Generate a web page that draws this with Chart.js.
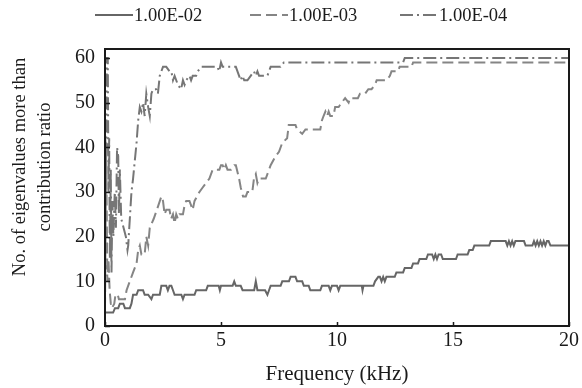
<!DOCTYPE html>
<html>
<head>
<meta charset="utf-8">
<title>Eigenvalue count vs frequency</title>
<script src="https://cdn.jsdelivr.net/npm/chart.js@4.4.1/dist/chart.umd.min.js"></script>
<style>
  html, body { margin: 0; padding: 0; background: #fff; }
  #wrap { width: 582px; height: 388px; }
</style>
</head>
<body>
<div id="wrap"><canvas id="eigChart" width="582" height="388"></canvas></div>
<script>
// Contribution-ratio thresholds, one curve each
const seriesLabels = ['1.00E-02', '1.00E-03', '1.00E-04'];

// Axis ticks
const xTickLabels = [0, 5, 10, 15, 20];
const yTickLabels = [0, 10, 20, 30, 40, 50, 60];

// 1.00E-02 : frequency (kHz) and number of eigenvalues
const freq1 = [0, 0.35, 0.43, 0.57, 0.64, 0.79, 0.86, 1.07, 1.14, 1.21, 1.36, 1.43, 1.64, 1.71, 1.86, 2.0, 2.07, 2.36, 2.43, 2.64,
  2.71, 2.78, 2.86, 2.93, 3.0, 3.29, 3.36, 3.43, 3.86, 3.93, 4.36, 4.43, 4.9, 4.95, 5.0, 5.5, 5.57, 5.64, 5.85, 5.93,
  6.43, 6.5, 6.57, 6.9, 7.0, 7.07, 7.14, 7.57, 7.64, 7.93, 8.0, 8.21, 8.28, 8.5, 8.57, 8.78, 8.85, 9.28, 9.35, 9.64,
  9.71, 9.78, 10.0, 10.07, 10.14, 11.07, 11.1, 11.14, 11.57, 11.64, 11.78, 11.85, 11.92, 11.99, 12.06, 12.13, 12.49, 12.56, 12.85, 12.92,
  13.21, 13.28, 13.49, 13.56, 13.85, 13.92, 14.1, 14.17, 14.24, 14.31, 14.38, 14.49, 14.56, 15.13, 15.2, 15.63, 15.7, 15.85, 15.92, 16.56,
  16.63, 17.27, 17.34, 17.41, 17.48, 17.55, 17.62, 17.69, 18.06, 18.13, 18.42, 18.49, 18.56, 18.63, 18.7, 18.77, 18.84, 18.91, 18.98, 19.05,
  19.12, 19.2, 20];
const count1 = [3, 3, 4, 4, 5, 5, 4, 4, 5, 7, 7, 8, 8, 7, 7, 6, 7, 7, 9, 9,
  8, 9, 9, 8, 7, 7, 6, 7, 7, 8, 8, 9, 9, 8, 9, 9, 10, 9, 9, 8,
  8, 10, 8, 8, 7, 8, 9, 9, 10, 10, 11, 11, 10, 10, 9, 9, 8, 8, 9, 9,
  8, 9, 9, 8, 9, 9, 8, 9, 9, 10, 11, 11, 10, 11, 10, 11, 11, 12, 12, 13,
  13, 14, 14, 15, 15, 16, 16, 15, 16, 15, 16, 16, 15, 15, 16, 16, 17, 17, 18, 18,
  19, 19, 18, 19, 18, 19, 18, 19, 19, 18, 18, 19, 18, 19, 18, 19, 18, 19, 18, 19,
  19, 18, 18];

// 1.00E-03
const freq2 = [0, 0.05, 0.1, 0.15, 0.2, 0.25, 0.3, 0.4, 0.45, 0.55, 0.6, 0.86, 0.93, 1.07, 1.21, 1.36, 1.43, 1.5, 1.57, 1.71,
  1.78, 1.86, 1.93, 2.1, 2.3, 2.43, 2.5, 2.57, 2.64, 2.78, 2.85, 2.93, 3.0, 3.07, 3.14, 3.21, 3.36, 3.43, 3.5, 3.64,
  3.71, 3.78, 3.86, 4.07, 4.21, 4.35, 4.5, 4.64, 4.93, 5.0, 5.07, 5.14, 5.21, 5.28, 5.43, 5.57, 5.64, 5.78, 5.85, 5.95,
  6.07, 6.14, 6.35, 6.42, 6.5, 6.57, 6.64, 6.93, 7.07, 7.14, 7.35, 7.5, 7.64, 7.85, 7.92, 8.21, 8.28, 8.5, 8.64, 9.28,
  9.35, 9.42, 9.5, 9.57, 9.64, 9.71, 9.85, 9.92, 10.07, 10.2, 10.35, 10.5, 10.56, 10.9, 10.99, 11.21, 11.35, 11.49, 11.64, 11.71,
  12.13, 12.28, 12.35, 12.63, 12.7, 13.21, 13.28, 20];
const count2 = [4, 40, 10, 15, 8, 5, 4, 5, 7, 7, 6, 6, 8, 10, 12, 14, 17, 18, 16, 16,
  20, 18, 22, 24, 27, 29, 28, 25, 26, 26, 24, 25, 23, 25, 24, 25, 25, 27, 28, 28,
  27, 26, 28, 30, 31, 32, 33, 35, 35, 36, 36, 35, 36, 35, 35, 36, 36, 33, 31, 29,
  29, 30, 30, 33, 34, 32, 33, 33, 35, 36, 38, 39, 41, 42, 45, 45, 44, 43, 44, 44,
  46, 47, 48, 47, 48, 47, 47, 49, 49, 50, 51, 50, 51, 51, 52, 52, 53, 53, 54, 55,
  55, 56, 57, 57, 58, 58, 59, 59];

// 1.00E-04
const freq3 = [0, 0.05, 0.08, 0.12, 0.15, 0.18, 0.21, 0.25, 0.28, 0.32, 0.36, 0.42, 0.47, 0.52, 0.57, 0.6, 0.64, 0.7, 0.8, 0.9,
  0.97, 1.0, 1.07, 1.14, 1.21, 1.36, 1.43, 1.5, 1.57, 1.64, 1.71, 1.78, 1.86, 1.93, 2.0, 2.07, 2.2, 2.28, 2.36, 2.43,
  2.5, 2.64, 2.78, 2.86, 2.93, 3.0, 3.07, 3.14, 3.28, 3.36, 3.43, 3.5, 3.64, 3.71, 3.78, 3.93, 4.0, 4.14, 4.85, 4.92,
  5.0, 5.07, 5.64, 5.71, 5.78, 5.85, 5.92, 6.0, 6.14, 6.28, 6.42, 6.5, 6.57, 6.64, 7.0, 7.07, 7.14, 7.57, 7.71, 12.85,
  12.92, 20];
const count3 = [43, 38, 60, 60, 30, 42, 15, 35, 12, 28, 20, 30, 22, 40, 38, 25, 35, 24, 22, 20,
  17, 18, 24, 30, 33, 41, 46, 49, 48, 50, 47, 52, 49, 47, 52, 53, 53, 52, 56, 57,
  58, 58, 57, 57, 55, 56, 55, 54, 53, 55, 54, 55, 56, 55, 56, 56, 57, 58, 58, 57,
  59, 58, 58, 57, 56, 55, 56, 55, 55, 56, 57, 56, 57, 56, 56, 57, 58, 58, 59, 59,
  60, 60];

const SERIF = "'Liberation Serif', 'Times New Roman', serif";
const INK = '#1a1a1a';

function toPoints(xs, ys) {
  return xs.map((f, i) => ({ x: f, y: ys[i] }));
}

// Box round the plot area plus short inward tick marks
const frameTicks = {
  id: 'frameTicks',
  afterDatasetsDraw(chart) {
    const { ctx, chartArea: a, scales: { x, y } } = chart;
    ctx.save();
    ctx.strokeStyle = INK;
    ctx.lineWidth = 1.5;
    ctx.beginPath();
    x.ticks.forEach(t => {
      const px = Math.round(x.getPixelForValue(t.value)) + 0.5;
      ctx.moveTo(px, a.bottom);
      ctx.lineTo(px, a.bottom - 4);
    });
    y.ticks.forEach(t => {
      const py = Math.round(y.getPixelForValue(t.value)) + 0.5;
      ctx.moveTo(a.left, py);
      ctx.lineTo(a.left + 5, py);
    });
    ctx.stroke();
    ctx.lineWidth = 2;
    ctx.strokeRect(a.left, a.top, a.right - a.left, a.bottom - a.top);
    ctx.restore();
  }
};

// Legend row: line sample followed straight by the label
const lineLegend = {
  id: 'lineLegend',
  afterDraw(chart, args, opts) {
    const { ctx } = chart;
    ctx.save();
    ctx.font = opts.font;
    ctx.textBaseline = 'middle';
    ctx.textAlign = 'left';
    chart.data.datasets.forEach((ds, i) => {
      const x0 = opts.starts[i];
      ctx.strokeStyle = ds.borderColor;
      ctx.lineWidth = ds.borderWidth;
      ctx.setLineDash(ds.borderDash || []);
      ctx.beginPath();
      ctx.moveTo(x0, opts.y);
      ctx.lineTo(x0 + opts.sample, opts.y);
      ctx.stroke();
      ctx.setLineDash([]);
      ctx.fillStyle = opts.color;
      ctx.fillText(ds.label, x0 + opts.sample + opts.gap, opts.y + 1);
    });
    ctx.restore();
  }
};

// Two-line rotated y title
const yTitle = {
  id: 'yTitle',
  afterDraw(chart, args, opts) {
    const { ctx } = chart;
    ctx.save();
    ctx.font = opts.font;
    ctx.fillStyle = opts.color;
    ctx.textAlign = 'center';
    ctx.textBaseline = 'middle';
    opts.lines.forEach((line, i) => {
      ctx.save();
      ctx.translate(opts.x[i], opts.centerY);
      ctx.rotate(-Math.PI / 2);
      ctx.fillText(line, 0, 0);
      ctx.restore();
    });
    ctx.restore();
  }
};

const ctx = document.getElementById('eigChart').getContext('2d');
new Chart(ctx, {
  type: 'line',
  data: {
    datasets: [
      {
        label: seriesLabels[0],
        data: toPoints(freq1, count1),
        borderColor: '#666666',
        borderWidth: 2,
        borderDash: []
      },
      {
        label: seriesLabels[1],
        data: toPoints(freq2, count2),
        borderColor: '#858585',
        borderWidth: 2,
        borderDash: [11, 5]
      },
      {
        label: seriesLabels[2],
        data: toPoints(freq3, count3),
        borderColor: '#767676',
        borderWidth: 2,
        borderDash: [13, 4, 2, 4]
      }
    ]
  },
  options: {
    responsive: false,
    animation: false,
    parsing: false,
    layout: { padding: { top: 49, right: 10, left: 0, bottom: 0 } },
    elements: {
      point: { radius: 0 },
      line: { tension: 0, fill: false }
    },
    plugins: {
      legend: { display: false },
      tooltip: { enabled: false },
      lineLegend: {
        starts: [95, 250, 400],
        sample: 38,
        gap: 1,
        y: 15,
        font: '18.5px ' + SERIF,
        color: INK
      },
      yTitle: {
        lines: ['No. of eigenvalues more than', 'contribution ratio'],
        x: [20, 45],
        centerY: 167,
        font: '18.5px ' + SERIF,
        color: INK
      }
    },
    scales: {
      x: {
        type: 'linear',
        min: 0,
        max: 20,
        grid: { display: false, drawTicks: false },
        border: { display: false },
        ticks: {
          stepSize: 1,
          autoSkip: false,
          maxRotation: 0,
          padding: 3,
          color: INK,
          font: { family: SERIF, size: 20 },
          callback: v => (xTickLabels.includes(v) ? String(v) : null)
        },
        title: {
          display: true,
          text: 'Frequency (kHz)',
          color: INK,
          font: { family: SERIF, size: 21 },
          padding: { top: 0, bottom: 1 }
        },
        afterFit: scale => { scale.height = 62; }
      },
      y: {
        type: 'linear',
        min: 0,
        max: 62,
        grid: { display: false, drawTicks: false },
        border: { display: false },
        ticks: {
          stepSize: 10,
          includeBounds: false,
          padding: 10,
          color: INK,
          font: { family: SERIF, size: 20 },
          callback: v => (yTickLabels.includes(v) ? String(v) : null)
        },
        afterFit: scale => { scale.width = 105; }
      }
    }
  },
  plugins: [frameTicks, lineLegend, yTitle]
});
</script>
</body>
</html>
